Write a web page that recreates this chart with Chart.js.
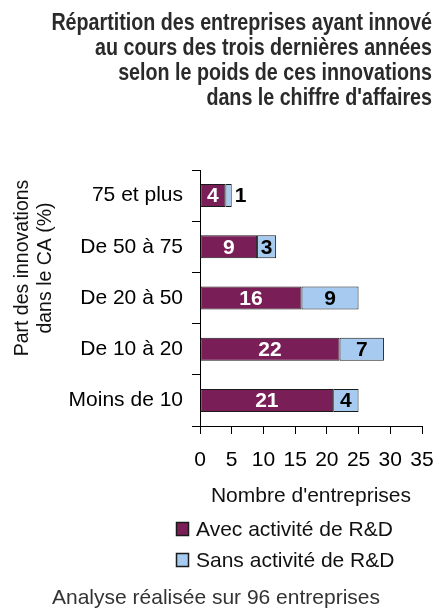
<!DOCTYPE html>
<html lang="fr">
<head>
  <meta charset="UTF-8" />
  <title>Répartition des entreprises ayant innové</title>
  <script src="https://cdn.jsdelivr.net/npm/chart.js"></script>
  <style>
    html, body {
      margin: 0;
      padding: 0;
      background: #fff;
    }
    #chart-wrap {
      width: 436px;
      height: 608px;
    }
  </style>
</head>
<body>
  <div id="chart-wrap">
    <canvas id="innov-chart" width="436" height="608"></canvas>
  </div>

  <script>
    // data
    const categories = ['75 et plus', 'De 50 à 75', 'De 20 à 50', 'De 10 à 20', 'Moins de 10'];
    const avecRD = [4, 9, 16, 22, 21];
    const sansRD = [1, 3, 9, 7, 4];
    const xTicks = [0, 5, 10, 15, 20, 25, 30, 35];
    const seriesNames = ['Avec activité de R&D', 'Sans activité de R&D'];

    const titleLines = [
      'Répartition des entreprises ayant innové',
      'au cours des trois dernières années',
      'selon le poids de ces innovations',
      "dans le chiffre d'affaires"
    ];
    const yTitleLines = ['Part des innovations', 'dans le CA (%)'];
    const xTitle = "Nombre d'entreprises";
    const footerText = 'Analyse réalisée sur 96 entreprises';

    const FONT = "'Liberation Sans', Arial, sans-serif";
    const purple = '#7a1e57';
    const blue = '#a6caf0';

    // numbers on / next to the bar segments
    const barLabels = {
      id: 'barLabels',
      afterDatasetsDraw(chart) {
        const ctx = chart.ctx;
        ctx.save();
        ctx.font = 'bold 21px ' + FONT;
        ctx.textBaseline = 'middle';
        chart.data.datasets.forEach((ds, di) => {
          const meta = chart.getDatasetMeta(di);
          meta.data.forEach((bar, i) => {
            const w = Math.abs(bar.x - bar.base);
            const txt = String(ds.data[i]);
            if (w < 12) {
              ctx.fillStyle = '#000';
              ctx.textAlign = 'left';
              ctx.fillText(txt, bar.x + 3, bar.y + 1);
            } else {
              ctx.fillStyle = di === 0 ? '#fff' : '#000';
              ctx.textAlign = 'center';
              ctx.fillText(txt, (bar.x + bar.base) / 2, bar.y + 1);
            }
          });
        });
        ctx.restore();
      }
    };

    // header, rotated y title, legend and footer
    const decor = {
      id: 'decor',
      afterDraw(chart) {
        const ctx = chart.ctx;
        ctx.save();

        // narrow bold header: squeeze a normal bold face horizontally
        ctx.fillStyle = '#2a2a2a';
        ctx.font = 'bold 24px ' + FONT;
        ctx.textAlign = 'right';
        ctx.textBaseline = 'alphabetic';
        titleLines.forEach((t, i) => {
          ctx.save();
          ctx.translate(432, 29.5 + i * 25);
          ctx.scale(0.82, 1);
          ctx.fillText(t, 0, 0);
          ctx.restore();
        });

        ctx.fillStyle = '#111';
        ctx.font = '19.5px ' + FONT;
        ctx.textAlign = 'center';
        ctx.textBaseline = 'middle';
        yTitleLines.forEach((t, i) => {
          ctx.save();
          ctx.translate(23 + i * 22.5, 268);
          ctx.rotate(-Math.PI / 2);
          ctx.fillText(t, 0, 0);
          ctx.restore();
        });

        const colors = [purple, blue];
        ctx.font = '21px ' + FONT;
        ctx.textAlign = 'left';
        seriesNames.forEach((name, i) => {
          const y = 522 + i * 31;
          ctx.fillStyle = colors[i];
          ctx.fillRect(176, y, 13, 14);
          ctx.strokeStyle = '#1a1a1a';
          ctx.lineWidth = 1.5;
          ctx.strokeRect(176.5, y + 0.5, 12, 13);
          ctx.fillStyle = '#111';
          ctx.fillText(name, 196, y + 8);
        });

        ctx.fillStyle = '#333';
        ctx.textAlign = 'center';
        ctx.textBaseline = 'alphabetic';
        ctx.fillText(footerText, 216, 604);

        ctx.restore();
      }
    };

    const ctx = document.getElementById('innov-chart').getContext('2d');
    new Chart(ctx, {
      type: 'bar',
      data: {
        labels: categories,
        datasets: [
          {
            label: seriesNames[0],
            data: avecRD,
            backgroundColor: purple,
            borderColor: '#1a1a1a',
            borderWidth: 1,
            borderSkipped: false
          },
          {
            label: seriesNames[1],
            data: sansRD,
            backgroundColor: blue,
            borderColor: '#1a1a1a',
            borderWidth: 1,
            borderSkipped: false
          }
        ]
      },
      options: {
        indexAxis: 'y',
        responsive: false,
        animation: false,
        barPercentage: 0.45,
        categoryPercentage: 1,
        layout: {
          padding: { top: 170, left: 0, right: 14, bottom: 99.6 }
        },
        plugins: {
          legend: { display: false },
          title: { display: false },
          tooltip: { enabled: false }
        },
        scales: {
          x: {
            stacked: true,
            min: 0,
            max: 35,
            afterBuildTicks: s => { s.ticks = xTicks.map(v => ({ value: v })); },
            afterFit: s => {
              s.height = 82.4;
              s.paddingLeft = 0;
              s.paddingRight = 0;
            },
            ticks: {
              color: '#000',
              font: { family: FONT, size: 21 },
              padding: 14,
              maxRotation: 0
            },
            grid: {
              drawOnChartArea: false,
              drawTicks: true,
              tickLength: 8,
              color: '#000'
            },
            border: { color: '#000', width: 1 },
            title: {
              display: true,
              text: xTitle,
              color: '#111',
              font: { family: FONT, size: 21 },
              padding: { top: 0, bottom: 0 }
            }
          },
          y: {
            stacked: true,
            afterFit: s => {
              s.width = 200;
              s.paddingTop = 0;
              s.paddingBottom = 0;
            },
            ticks: {
              color: '#000',
              font: { family: FONT, size: 21 },
              padding: 9
            },
            grid: {
              drawOnChartArea: false,
              drawTicks: true,
              tickLength: 8,
              offset: true,
              color: '#000'
            },
            border: { color: '#000', width: 1 }
          }
        }
      },
      plugins: [barLabels, decor]
    });
  </script>
</body>
</html>
